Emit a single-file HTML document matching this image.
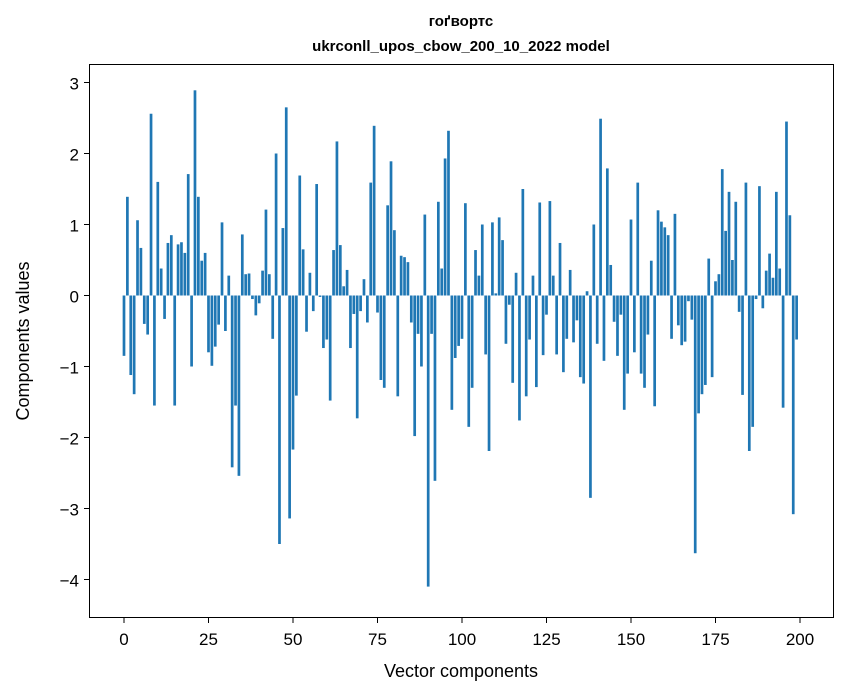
<!DOCTYPE html>
<html><head><meta charset="utf-8">
<style>
html,body{margin:0;padding:0;background:#fff;}
svg{display:block;font-family:"Liberation Sans","DejaVu Sans",sans-serif;}
</style></head>
<body>
<svg id="chart" width="847" height="696" viewBox="0 0 847 696" xmlns="http://www.w3.org/2000/svg">
<rect x="0" y="0" width="847" height="696" fill="#fff"/>
<text x="461" y="26" text-anchor="middle" font-size="15" font-weight="bold">гоґвортс</text>
<text x="461" y="51" text-anchor="middle" font-size="15" font-weight="bold">ukrconll_upos_cbow_200_10_2022 model</text>
<g id="bars"></g>
<g id="yticks"></g>
<g id="xticks"></g>
<rect x="89.5" y="64.5" width="744" height="553" fill="none" stroke="#000" stroke-width="1"/>
<text x="461" y="677" text-anchor="middle" font-size="18">Vector components</text>
<text transform="translate(29,341) rotate(-90)" text-anchor="middle" font-size="18">Components values</text>
</svg>
<script>
const values = [
-0.85,1.39,-1.12,-1.39,1.06,0.67,-0.40,-0.55,2.56,-1.55,
1.60,0.38,-0.33,0.74,0.85,-1.55,0.72,0.75,0.60,1.71,
-1.00,2.89,1.39,0.49,0.60,-0.80,-0.99,-0.72,-0.41,1.03,
-0.50,0.28,-2.42,-1.55,-2.54,0.86,0.30,0.31,-0.05,-0.28,
-0.11,0.35,1.21,0.30,-0.61,2.00,-3.50,0.95,2.65,-3.14,
-2.17,-1.41,1.69,0.65,-0.51,0.32,-0.22,1.57,-0.02,-0.74,
-0.62,-1.48,0.64,2.17,0.71,0.13,0.36,-0.74,-0.26,-1.73,
-0.22,0.23,-0.38,1.59,2.39,-0.24,-1.19,-1.30,1.27,1.89,
0.92,-1.42,0.56,0.54,0.47,-0.38,-1.98,-0.54,-1.00,1.14,
-4.10,-0.54,-2.61,1.32,0.38,1.93,2.32,-1.61,-0.88,-0.71,
-0.61,1.30,-1.85,-1.30,0.64,0.28,1.00,-0.83,-2.19,1.03,
0.03,1.10,0.78,-0.68,-0.13,-1.23,0.32,-1.76,1.50,-1.42,
-0.62,0.28,-1.29,1.31,-0.84,-0.27,1.33,0.28,-0.83,0.74,
-1.08,-0.61,0.36,-0.66,-0.35,-1.15,-1.24,0.06,-2.85,1.00,
-0.68,2.49,-0.92,1.79,0.43,-0.37,-0.85,-0.27,-1.61,-1.10,
1.07,-0.80,1.59,-1.10,-1.30,-0.55,0.49,-1.56,1.20,1.04,
0.96,0.85,-0.61,1.15,-0.42,-0.70,-0.65,-0.08,-0.34,-3.63,
-1.66,-1.39,-1.26,0.52,-1.15,0.20,0.30,1.78,0.91,1.46,
0.50,1.32,-0.23,-1.40,1.59,-2.19,-1.85,-0.05,1.54,-0.18,
0.35,0.59,0.25,1.46,0.38,-1.58,2.45,1.13,-3.08,-0.62
];
const yTickValues = [3,2,1,0,-1,-2,-3,-4];
const yTickLabels = ["3","2","1","0","\u22121","\u22122","\u22123","\u22124"];
const xTickValues = [0,25,50,75,100,125,150,175,200];
const xTickLabels = ["0","25","50","75","100","125","150","175","200"];

const NS = "http://www.w3.org/2000/svg";
function xScale(i){ return 124 + i*3.38; }
function yScale(v){ return 295.5 - v*71; }
const barW = 2.7;

const gb = document.getElementById('bars');
values.forEach(function(v,i){
  const r = document.createElementNS(NS,'rect');
  const y0 = yScale(0), y1 = yScale(v);
  r.setAttribute('x', xScale(i)-barW/2);
  r.setAttribute('y', Math.min(y0,y1));
  r.setAttribute('width', barW);
  r.setAttribute('height', Math.max(0.5, Math.abs(y1-y0)));
  r.setAttribute('fill', '#1f77b4');
  
  
  gb.appendChild(r);
});

const gy = document.getElementById('yticks');
yTickValues.forEach(function(v,k){
  const y = yScale(v);
  const l = document.createElementNS(NS,'line');
  l.setAttribute('x1',84); l.setAttribute('x2',89.5);
  l.setAttribute('y1',y); l.setAttribute('y2',y);
  l.setAttribute('stroke','#000');
  
  
  gy.appendChild(l);
  const t = document.createElementNS(NS,'text');
  t.setAttribute('x',79); t.setAttribute('y',y+7);
  t.setAttribute('text-anchor','end'); t.setAttribute('font-size','17');
  t.textContent = yTickLabels[k];
  
  
  gy.appendChild(t);
});

const gx = document.getElementById('xticks');
xTickValues.forEach(function(v,k){
  const x = xScale(v);
  const l = document.createElementNS(NS,'line');
  l.setAttribute('x1',x); l.setAttribute('x2',x);
  l.setAttribute('y1',617.5); l.setAttribute('y2',623);
  l.setAttribute('stroke','#000');
  
  
  gx.appendChild(l);
  const t = document.createElementNS(NS,'text');
  t.setAttribute('x',x); t.setAttribute('y',645);
  t.setAttribute('text-anchor','middle'); t.setAttribute('font-size','17');
  t.textContent = xTickLabels[k];
  
  
  gx.appendChild(t);
});
</script>
</body></html>
